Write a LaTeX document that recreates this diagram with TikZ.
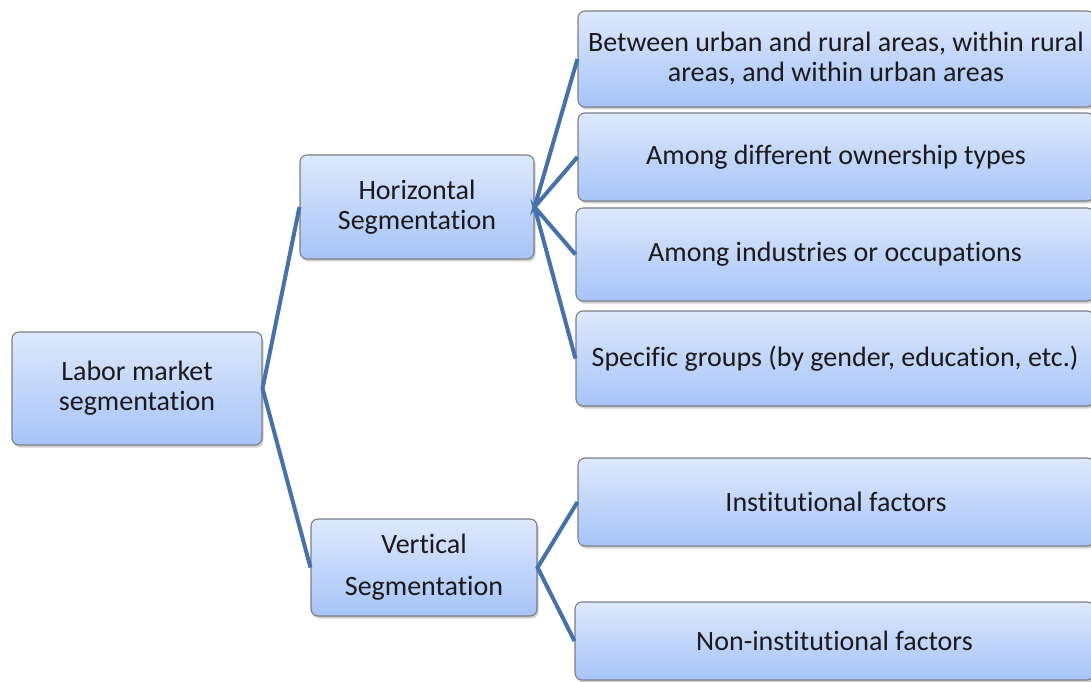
\documentclass[tikz,border=0pt]{standalone}
\usepackage{fontspec}
\setmainfont{Carlito}[Ligatures={NoCommon}]
\usetikzlibrary{shadows}
\definecolor{boxtop}{HTML}{DDE8FC}
\definecolor{boxbot}{HTML}{A7C4F8}
\definecolor{boxline}{HTML}{7A7E86}
\definecolor{conn}{HTML}{4672AA}
\definecolor{txt}{HTML}{1A1A1A}
\tikzset{
  box/.style={rectangle, rounded corners=7pt, draw=boxline, line width=1.1pt,
    top color=boxtop, bottom color=boxbot, inner sep=0pt, align=center,
    text=txt, font=\fontsize{28}{30}\selectfont,
    drop shadow={shadow xshift=1.5pt, shadow yshift=-2.5pt, opacity=0.3, fill=black!60}},
  conn/.style={draw=conn, line width=4pt},
}
\begin{document}
\begin{tikzpicture}[x=1pt,y=1pt]
\useasboundingbox (0,0) rectangle (1091,681);
\fill[white] (0,0) rectangle (1091,681);
\begin{scope}
\clip (0,0) rectangle (1091,681);
% root
\node[box, minimum width=250pt, minimum height=113pt] (root) at (137,292.5) {Labor market\\segmentation};
% middle
\node[box, minimum width=234pt, minimum height=104pt] (hor) at (417,474) {Horizontal\\Segmentation};
\node[box, minimum width=226pt, minimum height=97pt, font=\fontsize{28}{42}\selectfont] (ver) at (424,113.5) {Vertical\\Segmentation};
% right
\node[box, minimum width=516pt, minimum height=96pt] (r1) at (836,622) {Between urban and rural areas, within rural\\areas, and within urban areas};
\node[box, minimum width=516pt, minimum height=88pt] (r2) at (836,524) {Among different ownership types};
\node[box, minimum width=518pt, minimum height=93pt] (r3) at (835,426.5) {Among industries or occupations};
\node[box, minimum width=518pt, minimum height=95pt] (r4) at (835,322.5) {Specific groups (by gender, education, etc.)};
\node[box, minimum width=516pt, minimum height=88pt] (r5) at (836,179) {Institutional factors};
\node[box, minimum width=519pt, minimum height=78pt] (r6) at (834.5,40) {Non-institutional factors};
\end{scope}
% connectors
\draw[conn] (hor.west) -- (root.east) -- (ver.west);
\draw[conn] (r1.west) -- (hor.east) -- (r2.west);
\draw[conn] (r3.west) -- (hor.east) -- (r4.west);
\draw[conn] (r5.west) -- (ver.east) -- (r6.west);
\end{tikzpicture}
\end{document}
